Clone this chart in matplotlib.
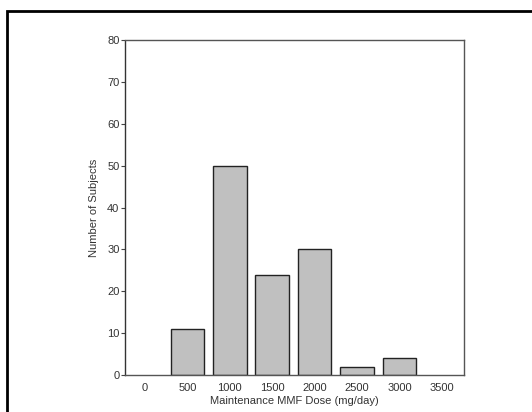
import matplotlib
matplotlib.use("Agg")
import matplotlib.pyplot as plt
from matplotlib.patches import Rectangle

plt.rcParams['font.family'] = ['Liberation Sans', 'DejaVu Sans']

doses = ['0', '500', '1000', '1500', '2000', '2500', '3000', '3500']
subjects = [0, 11, 50, 24, 30, 2, 4, 0]
yticks = [0, 10, 20, 30, 40, 50, 60, 70, 80]

W, H = 532, 412
fig = plt.figure(figsize=(W / 100, H / 100), dpi=100)
fig.patch.set_facecolor('white')

# outer frame, runs off the right and bottom edges
fig.patches.append(Rectangle((7 / W, -0.05), 1.2, (H - 11) / H + 0.05,
                             transform=fig.transFigure, fill=False,
                             edgecolor='black', linewidth=2))

ax = fig.add_axes([125 / W, 1 - 375 / H, (464 - 125) / W, (375 - 40) / H])
x = range(len(doses))
# empty bins get no outline so nothing shows on the baseline
widths = [1.0 if v > 0 else 0 for v in subjects]
ax.bar(x, subjects, width=0.79, color='#c0c0c0', edgecolor='#222222',
       linewidth=widths)

ax.set_xlim(-0.47, 7.52)
ax.set_ylim(0, 80)
ax.set_xticks(list(x))
ax.set_xticklabels(doses)
ax.set_yticks(yticks)

for s in ax.spines.values():
    s.set_color('#555555')
    s.set_linewidth(1.0)
ax.spines['left'].set_color('#333333')
ax.spines['left'].set_linestyle((0, (1, 1)))

ax.tick_params(axis='x', length=0, pad=6, labelsize=8, labelcolor='#333333')
ax.tick_params(axis='y', length=3, width=0.8, color='#444444', pad=1,
               labelsize=8, labelcolor='#333333')

ax.set_xlabel('Maintenance MMF Dose (mg/day)', fontsize=8, color='#333333',
              labelpad=2)
ax.set_ylabel('Number of Subjects', fontsize=8, color='#333333', labelpad=6)

fig.savefig('out.png', dpi=100)
